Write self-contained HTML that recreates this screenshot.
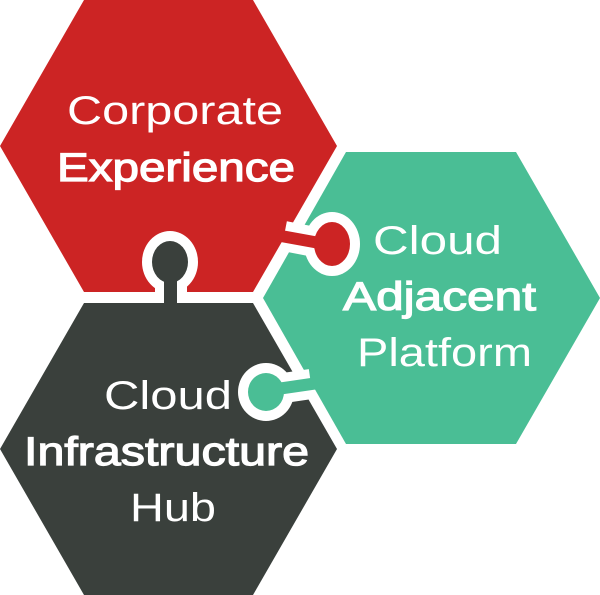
<!DOCTYPE html>
<html><head><style>html,body{margin:0;padding:0;background:#fff}svg{display:block}</style></head>
<body>
<svg width="600" height="595" viewBox="0 0 600 595" xmlns="http://www.w3.org/2000/svg">
<polygon points="84,303 253,303 337,449 253,595 84,595 0,449" fill="#3a403c"/>
<polygon points="346,152 516,152 600,298 516,444 346,444 263,298" fill="#4abe95"/>
<polygon points="84,0 253,0 337,146 253,292 84,292 0,146" fill="#cc2424"/>
<g>
<ellipse cx="170" cy="262" rx="28" ry="31" fill="#fff"/>
<rect x="155" y="270" width="32" height="30" fill="#fff"/>
<ellipse cx="170" cy="262" rx="18" ry="21" fill="#3a403c"/>
<rect x="164" y="270" width="13" height="40" fill="#3a403c"/>
</g>
<g>
<line x1="284" y1="236" x2="325" y2="244" stroke="#fff" stroke-width="30"/>
<ellipse cx="332" cy="244" rx="28" ry="32" fill="#fff"/>
<line x1="270" y1="234" x2="325" y2="244" stroke="#cc2424" stroke-width="12"/>
<ellipse cx="332" cy="244" rx="18" ry="22" fill="#cc2424"/>
</g>
<g>
<line x1="311" y1="384" x2="270" y2="390" stroke="#fff" stroke-width="30"/>
<ellipse cx="266" cy="392" rx="28" ry="29" fill="#fff"/>
<line x1="325" y1="382" x2="270" y2="390" stroke="#4abe95" stroke-width="12"/>
<ellipse cx="266" cy="392" rx="18" ry="19" fill="#4abe95"/>
</g>
<g fill="#fff" font-family="Liberation Sans, sans-serif" font-size="40">
<text x="67" y="124" textLength="216" lengthAdjust="spacingAndGlyphs">Corporate</text>
<text x="57" y="181" textLength="238" lengthAdjust="spacingAndGlyphs" stroke="#fff" stroke-width="1.2">Experience</text>
<text x="373" y="254" textLength="129" lengthAdjust="spacingAndGlyphs">Cloud</text>
<text x="343" y="310" textLength="193" lengthAdjust="spacingAndGlyphs" stroke="#fff" stroke-width="1.2">Adjacent</text>
<text x="357" y="366" textLength="175" lengthAdjust="spacingAndGlyphs">Platform</text>
<text x="104" y="409" textLength="128" lengthAdjust="spacingAndGlyphs">Cloud</text>
<text x="24" y="465" textLength="285" lengthAdjust="spacingAndGlyphs" stroke="#fff" stroke-width="1.2">Infrastructure</text>
<text x="130" y="521" textLength="86" lengthAdjust="spacingAndGlyphs">Hub</text>
</g>
</svg>
</body></html>
